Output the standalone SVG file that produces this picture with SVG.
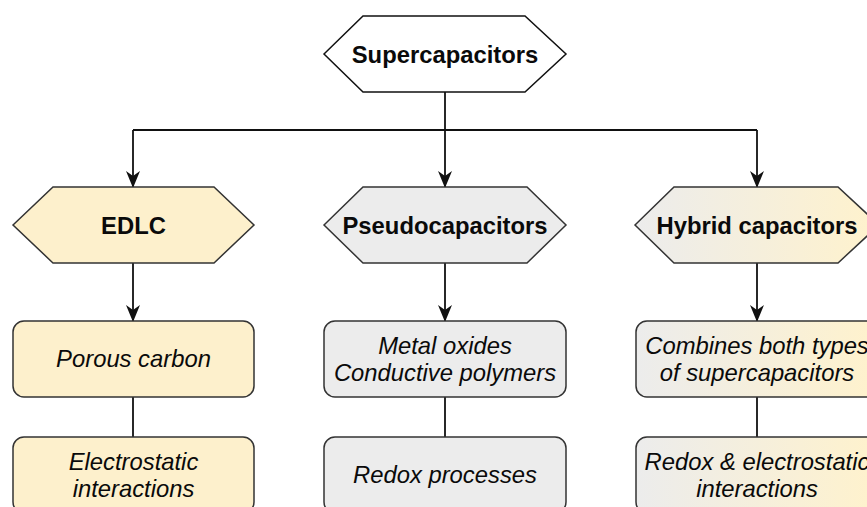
<svg xmlns="http://www.w3.org/2000/svg" width="867" height="507" viewBox="0 0 867 507">
<style>
.hex{stroke:#333333;stroke-width:1.5}
.box{stroke:#333333;stroke-width:1.5}
.yel{fill:#fdf0cc}
.gry{fill:#ececec}
.wht{fill:#ffffff;stroke:#111111}
.hyb{fill:url(#hg)}
.t{font-family:"Liberation Sans",Arial,sans-serif;font-size:23.8px;fill:#0a0a0a;text-anchor:middle}
.b{font-weight:bold}
.i{font-style:italic}
.c{fill:none;stroke:#111111;stroke-width:1.8}
</style>
<defs>
<linearGradient id="hg" gradientUnits="userSpaceOnUse" x1="635" y1="0" x2="879" y2="0">
<stop offset="0" stop-color="#ececec"/>
<stop offset="1" stop-color="#fff2cc"/>
</linearGradient>
<marker id="ah" viewBox="0 0 17 14" refX="16" refY="7" markerWidth="17" markerHeight="14" markerUnits="userSpaceOnUse" orient="auto">
<path d="M0,0 L17,7 L0,14 L5,7 Z" fill="#111111"/>
</marker>
</defs>
<g id="connectors">
<path class="c" d="M445,92 V130"/>
<path class="c" d="M133,130 H757"/>
<path class="c" d="M133,130 V187" marker-end="url(#ah)"/>
<path class="c" d="M445,130 V187" marker-end="url(#ah)"/>
<path class="c" d="M757,130 V187" marker-end="url(#ah)"/>
<path class="c" d="M133,263 V321" marker-end="url(#ah)"/>
<path class="c" d="M445,263 V321" marker-end="url(#ah)"/>
<path class="c" d="M757,263 V321" marker-end="url(#ah)"/>
<path class="c" d="M133,397 V437"/>
<path class="c" d="M445,397 V437"/>
<path class="c" d="M757,397 V437"/>
</g>
<g id="supercapacitors">
<polygon class="hex wht" points="324,54 363,16 525,16 566,54 525,92 363,92"/>
<text class="t b" x="445" y="63">Supercapacitors</text>
</g>
<g id="edlc">
<polygon class="hex yel" points="13,225 53,187 214,187 254,225 214,263 53,263"/>
<text class="t b" x="133.5" y="234">EDLC</text>
</g>
<g id="pseudocapacitors">
<polygon class="hex gry" points="324,225 363,187 527,187 566,225 527,263 363,263"/>
<text class="t b" x="445" y="234">Pseudocapacitors</text>
</g>
<g id="hybrid">
<polygon class="hex hyb" points="635,225 674,187 838,187 879,225 838,263 674,263"/>
<text class="t b" x="757" y="234">Hybrid capacitors</text>
</g>
<g id="porous-carbon">
<rect class="box yel" x="13" y="321" width="241" height="76" rx="11"/>
<text class="t i" x="133.5" y="367">Porous carbon</text>
</g>
<g id="metal-oxides">
<rect class="box gry" x="324" y="321" width="242" height="76" rx="11"/>
<text class="t i" x="445" y="354">Metal oxides</text>
<text class="t i" x="445" y="381">Conductive polymers</text>
</g>
<g id="combines">
<rect class="box hyb" x="636" y="321" width="242" height="76" rx="11"/>
<text class="t i" x="757" y="354">Combines both types</text>
<text class="t i" x="757" y="381">of supercapacitors</text>
</g>
<g id="electrostatic">
<rect class="box yel" x="13" y="437" width="241" height="76" rx="11"/>
<text class="t i" x="133.5" y="470">Electrostatic</text>
<text class="t i" x="133.5" y="497">interactions</text>
</g>
<g id="redox">
<rect class="box gry" x="324" y="437" width="242" height="76" rx="11"/>
<text class="t i" x="445" y="483">Redox processes</text>
</g>
<g id="redox-electrostatic">
<rect class="box hyb" x="636" y="437" width="242" height="76" rx="11"/>
<text class="t i" x="757" y="470">Redox &amp; electrostatic</text>
<text class="t i" x="757" y="497">interactions</text>
</g>
</svg>
